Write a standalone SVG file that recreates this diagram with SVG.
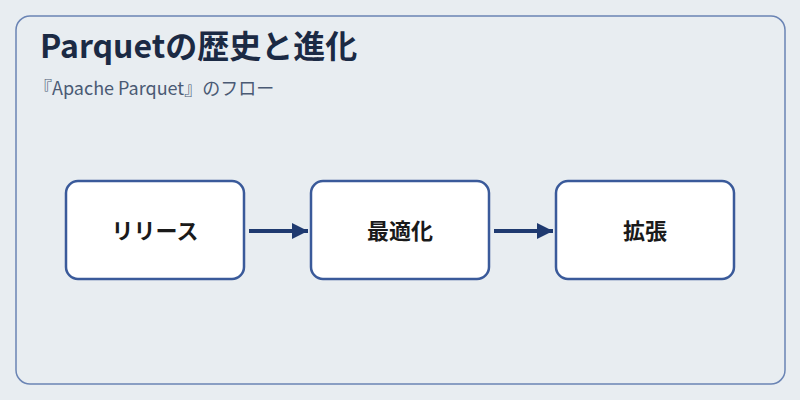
<svg xmlns="http://www.w3.org/2000/svg" width="800" height="400" viewBox="0 0 800 400">
<defs><marker id="ah" viewBox="0 0 10 10" refX="10" refY="5" markerWidth="4" markerHeight="4" orient="auto"><path d="M0,0L10,5L0,10z" fill="#1f3a70"/></marker></defs>
<style>
.n{fill:#fff;stroke:#3a5a9a;stroke-width:2.5}
.t{font-family:"Noto Sans CJK JP","Noto Sans",sans-serif;font-weight:bold;font-size:22px;fill:#1a1a1a;text-anchor:middle}
.c{stroke:#1f3a70;stroke-width:4;marker-end:url(#ah)}
</style>
<rect width="800" height="400" fill="#e8edf1"/>
<rect x="16" y="16" width="769" height="368" rx="14" fill="#e8edf1" stroke="#6a84b4" stroke-width="1.5"/>
<text x="40" y="58" font-family="'Noto Sans CJK JP','Noto Sans',sans-serif" font-weight="bold" font-size="32" fill="#1b2a44">Parquetの歴史と進化</text>
<text x="34" y="95" font-family="'Noto Sans CJK JP','Noto Sans',sans-serif" font-size="18" fill="#4a5a74">『Apache Parquet』のフロー</text>
<g id="connectors"><line class="c" x1="249" y1="231" x2="308" y2="231"/><line class="c" x1="494" y1="231" x2="553" y2="231"/></g>
<g id="n1"><rect class="n" x="66" y="181" width="178" height="98" rx="12"/><text class="t" x="155" y="239">リリース</text></g>
<g id="n2"><rect class="n" x="311" y="181" width="178" height="98" rx="12"/><text class="t" x="400" y="239">最適化</text></g>
<g id="n3"><rect class="n" x="556" y="181" width="178" height="98" rx="12"/><text class="t" x="645" y="239">拡張</text></g>
</svg>
